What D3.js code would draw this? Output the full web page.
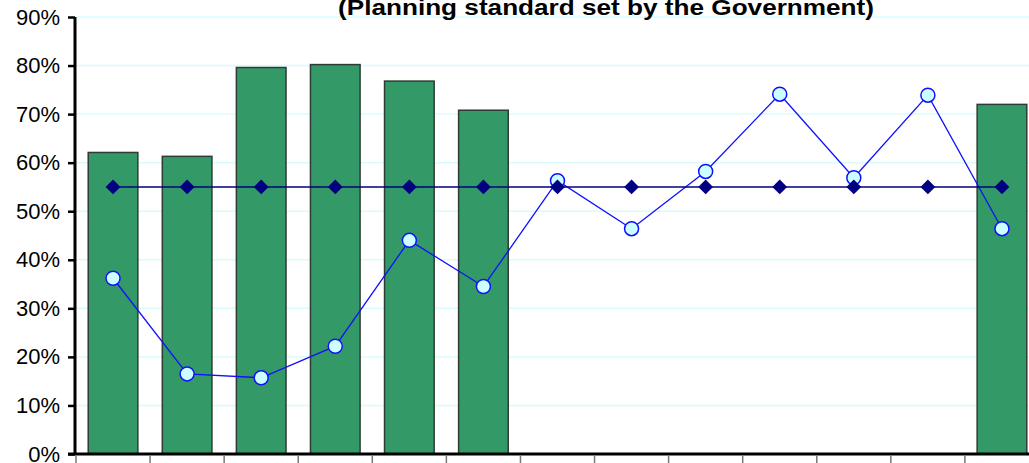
<!DOCTYPE html>
<html>
<head>
<meta charset="utf-8">
<script src="https://cdn.jsdelivr.net/npm/d3@7"></script>
<style>
html,body{margin:0;padding:0;background:#fff;overflow:hidden;}
svg{display:block;}
</style>
</head>
<body>
<svg id="chart" width="1029" height="463"></svg>
<script>
const categories = ["C1","C2","C3","C4","C5","C6","C7","C8","C9","C10","C11","C12","C13"];
const barValues = [0.621, 0.613, 0.796, 0.802, 0.768, 0.708, null, null, null, null, null, null, 0.720];
const actualValues = [0.362, 0.165, 0.157, 0.222, 0.440, 0.345, 0.563, 0.464, 0.582, 0.741, 0.569, 0.739, 0.464];
const standardValues = [0.55,0.55,0.55,0.55,0.55,0.55,0.55,0.55,0.55,0.55,0.55,0.55,0.55];
const yTicks = [0,0.1,0.2,0.3,0.4,0.5,0.6,0.7,0.8,0.9];
const titleText = "(Planning standard set by the Government)";

const svg = d3.select("#chart");
const mLeft = 76, mRight = 1039, mTop = 17, mBottom = 454;

const x = d3.scaleBand().domain(categories).range([mLeft, mRight]).paddingInner(0.33).paddingOuter(0.165);
const xEdge = d3.scaleBand().domain(categories).range([mLeft, mRight]).padding(0);
const y = d3.scaleLinear().domain([0, 0.9]).range([mBottom, mTop]);

// gridlines
svg.append("g").selectAll("line").data(yTicks.filter(d => d > 0)).join("line")
  .attr("x1", mLeft).attr("x2", 1029)
  .attr("y1", d => y(d)).attr("y2", d => y(d))
  .attr("stroke", "#d8fcfc").attr("stroke-width", 1.5);

// title
svg.append("text").attr("x", 606).attr("y", 15)
  .attr("text-anchor", "middle")
  .attr("font-family", "Liberation Sans, Arial, sans-serif")
  .attr("font-weight", "bold").attr("font-size", 22)
  .attr("textLength", 536).attr("lengthAdjust", "spacingAndGlyphs")
  .attr("fill", "#000").text(titleText);

// bars
const barData = categories.map((c, i) => ({c, v: barValues[i]})).filter(d => d.v != null);
svg.append("g").selectAll("rect").data(barData).join("rect")
  .attr("x", d => x(d.c)).attr("width", x.bandwidth())
  .attr("y", d => y(d.v)).attr("height", d => y(0) - y(d.v))
  .attr("fill", "#339966").attr("stroke", "#2f3b35").attr("stroke-width", 1.5);

// actual line
const cx = c => x(c) + x.bandwidth() / 2;
const actData = categories.map((c, i) => ({c, v: actualValues[i]}));
svg.append("path").datum(actData)
  .attr("d", d3.line().x(d => cx(d.c)).y(d => y(d.v)))
  .attr("fill", "none").attr("stroke", "#1010ff").attr("stroke-width", 1.3);
svg.append("g").selectAll("circle").data(actData).join("circle")
  .attr("cx", d => cx(d.c)).attr("cy", d => y(d.v)).attr("r", 7)
  .attr("fill", "#ccffff").attr("stroke", "#1010ff").attr("stroke-width", 1.5);

// standard line
const stdData = categories.map((c, i) => ({c, v: standardValues[i]}));
svg.append("path").datum(stdData)
  .attr("d", d3.line().x(d => cx(d.c)).y(d => y(d.v)))
  .attr("fill", "none").attr("stroke", "#000080").attr("stroke-width", 1.5);
svg.append("g").selectAll("path").data(stdData).join("path")
  .attr("transform", d => `translate(${cx(d.c)},${y(d.v)})`)
  .attr("d", d3.symbol().type(d3.symbolDiamond2).size(140))
  .attr("fill", "#000080");

// y axis
const yAxis = svg.append("g").attr("transform", `translate(${mLeft - 1},0)`)
  .call(d3.axisLeft(y).tickValues(yTicks).tickFormat(d3.format(".0%")).tickSize(7).tickPadding(8));
yAxis.select(".domain").attr("stroke", "#000").attr("stroke-width", 3).attr("d", `M0,${mTop}V${mBottom}`);
yAxis.selectAll(".tick line").attr("stroke", "#000").attr("stroke-width", 2.5);
yAxis.selectAll(".tick text").attr("font-family", "Liberation Sans, Arial, sans-serif")
  .attr("font-size", 22).attr("fill", "#000");

// x axis
const xAxis = svg.append("g").attr("transform", `translate(0,${mBottom})`);
xAxis.append("line").attr("x1", mLeft - 8).attr("x2", 1029).attr("y1", 0).attr("y2", 0)
  .attr("stroke", "#000").attr("stroke-width", 3);
xAxis.selectAll("line.tk").data(categories).join("line").attr("class", "tk")
  .attr("x1", d => xEdge(d)).attr("x2", d => xEdge(d))
  .attr("y1", 1).attr("y2", 10).attr("stroke", "#777").attr("stroke-width", 1.5);
</script>
</body>
</html>
